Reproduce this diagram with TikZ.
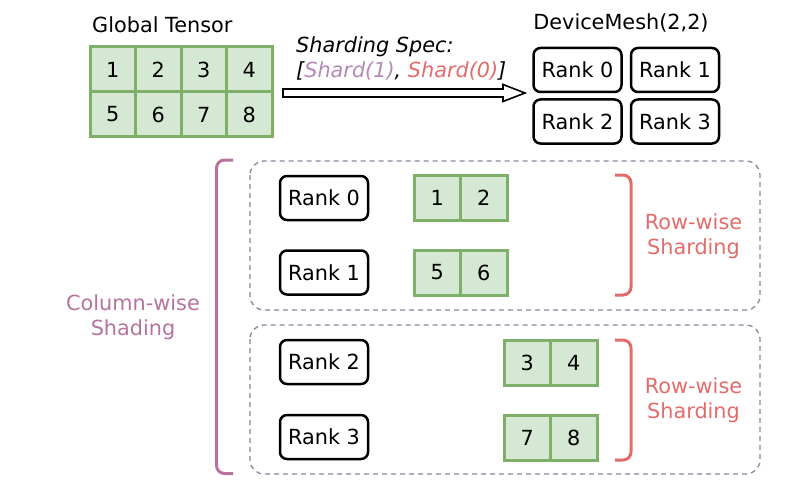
\documentclass[tikz,border=0pt]{standalone}
\usepackage{fontspec}
\setmainfont{DejaVu Sans}
\usetikzlibrary{calc}
\definecolor{cellfill}{HTML}{D5E8D4}
\definecolor{celldraw}{HTML}{7FB069}
\definecolor{redc}{HTML}{E36C6A}
\definecolor{purc}{HTML}{B5739D}
\definecolor{purlight}{HTML}{B28AB5}
\definecolor{dashc}{HTML}{8F819F}
\begin{document}
\begin{tikzpicture}[x=1pt,y=-1pt,
  every node/.style={font=\fontsize{20.8}{25}\selectfont, inner sep=0pt},
  cellbig/.style={draw=celldraw, fill=cellfill, line width=3pt, minimum width=45.5pt, minimum height=45pt},
  cellsm/.style={draw=celldraw, fill=cellfill, line width=3pt, minimum width=46.5pt, minimum height=45pt},
  rankbox/.style={draw=black, line width=2.5pt, rounded corners=7pt, minimum width=88pt, minimum height=44pt},
  dashbox/.style={draw=dashc, line width=1.3pt, dash pattern=on 5pt off 4pt, rounded corners=14pt},
  bracketred/.style={draw=redc, line width=3pt, rounded corners=8pt},
  bracketpur/.style={draw=purc, line width=3pt, rounded corners=8pt}
]
\useasboundingbox (0,0) rectangle (800,492);

% Global tensor
\node[anchor=west] (gtl) at (92,25) {Global Tensor};
\node[cellbig] (g1) at (112.75,69.5) {1};
\node[cellbig] (g2) at (158.25,69.5) {2};
\node[cellbig] (g3) at (203.75,69.5) {3};
\node[cellbig] (g4) at (249.25,69.5) {4};
\node[cellbig] (g5) at (112.75,114.5) {5};
\node[cellbig] (g6) at (158.25,114.5) {6};
\node[cellbig] (g7) at (203.75,114.5) {7};
\node[cellbig] (g8) at (249.25,114.5) {8};

% Sharding spec
\node[anchor=base west] (spec1) at (296,52.5) {\itshape Sharding Spec:};
\node[anchor=base west] (spec2) at (296,77.5) {\itshape [{\color{purlight}Shard(1)}, {\color{redc}Shard(0)}]};

% arrow
\coordinate (as) at (283,93);
\coordinate (ae) at (525,93);
\draw[line width=1.6pt, line join=miter] ($(as)+(0,-4)$) -- ($(ae)+(-22,-4)$) -- ($(ae)+(-22,-8.5)$) -- (ae) -- ($(ae)+(-22,8.5)$) -- ($(ae)+(-22,4)$) -- ($(as)+(0,4)$) -- cycle;

% Device mesh
\node (dm) at (621,23) {DeviceMesh(2,2)};
\node[rankbox] (m0) at (577.5,70) {Rank 0};
\node[rankbox] (m1) at (675,70) {Rank 1};
\node[rankbox] (m2) at (577.5,121.5) {Rank 2};
\node[rankbox] (m3) at (675,121.5) {Rank 3};

% dashed groups
\draw[dashbox] (250,161) rectangle (760,310);
\draw[dashbox] (250,325) rectangle (760,474);

% ranks
\node[rankbox] (r0) at (324,198) {Rank 0};
\node[rankbox] (r1) at (324,272.5) {Rank 1};
\node[rankbox] (r2) at (324,362) {Rank 2};
\node[rankbox] (r3) at (324,437) {Rank 3};

% shards
\node[cellsm] (s1) at (437.25,198) {1};
\node[cellsm] (s2) at (483.75,198) {2};
\node[cellsm] (s5) at (437.25,272.5) {5};
\node[cellsm] (s6) at (483.75,272.5) {6};
\node[cellsm] (s3) at (527.25,362.5) {3};
\node[cellsm] (s4) at (573.75,362.5) {4};
\node[cellsm] (s7) at (527.25,437.5) {7};
\node[cellsm] (s8) at (573.75,437.5) {8};

% brackets
\draw[bracketred] (615,175) -- (631,175) -- (631,295) -- (615,295);
\draw[bracketred] (615,340) -- (631,340) -- (631,460) -- (615,460);
\draw[bracketpur] (233,160) -- (216.5,160) -- (216.5,473.5) -- (233,473.5);

% labels
\node[text=redc, align=center] (rw1) at (693.5,236) {Row-wise\\Sharding};
\node[text=redc, align=center] (rw2) at (693.5,400) {Row-wise\\Sharding};
\node[text=purc, align=center] (cw) at (133,317) {Column-wise\\Shading};
\end{tikzpicture}
\end{document}
